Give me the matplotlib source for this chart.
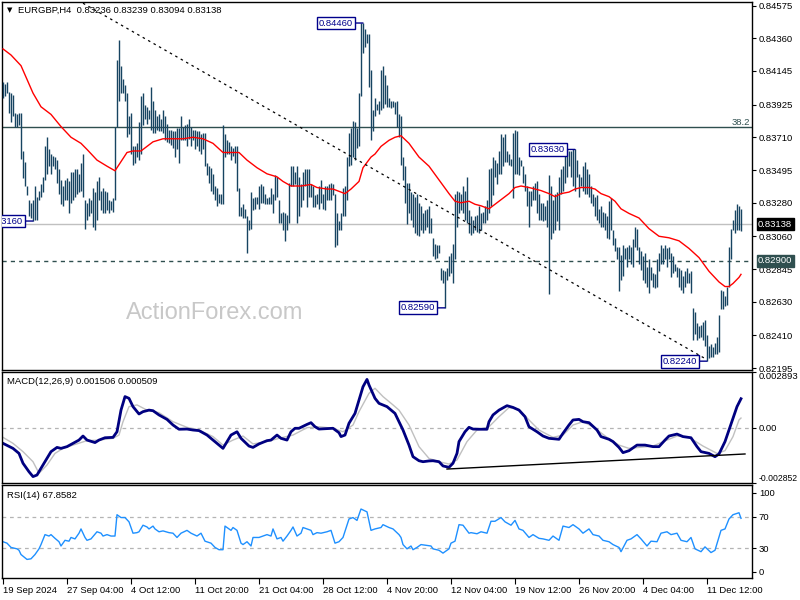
"""EURGBP H4 chart with 55-bar MA, MACD(12,26,9) and RSI(14) panes, MT4 style."""

import matplotlib
matplotlib.use("Agg")
import matplotlib.pyplot as plt
from matplotlib.transforms import blended_transform_factory

plt.rcParams["font.family"] = ["Liberation Sans", "DejaVu Sans"]
plt.rcParams["font.size"] = 6.8

# ---- price bars (H4) ----
bar_high = [
    0.8407, 0.8406, 0.8407, 0.8401, 0.8400, 0.8399, 0.8387, 0.8386, 0.8387, 0.8387,
    0.8362, 0.8355, 0.8339, 0.8330, 0.8328, 0.8330, 0.8339, 0.8332, 0.8336, 0.8340,
    0.8345, 0.8365, 0.8371, 0.8363, 0.8360, 0.8359, 0.8358, 0.8356, 0.8350, 0.8343,
    0.8339, 0.8343, 0.8344, 0.8342, 0.8348, 0.8348, 0.8350, 0.8350, 0.8347, 0.8354,
    0.8360, 0.8330, 0.8328, 0.8331, 0.8330, 0.8338, 0.8335, 0.8342, 0.8345, 0.8336,
    0.8338, 0.8336, 0.8335, 0.8330, 0.8329, 0.8331, 0.8378, 0.8422, 0.8435, 0.8418,
    0.8409, 0.8405, 0.8400, 0.8385, 0.8387, 0.8365, 0.8365, 0.8367, 0.8381, 0.8398,
    0.8400, 0.8392, 0.8391, 0.8389, 0.8404, 0.8395, 0.8389, 0.8385, 0.8386, 0.8383,
    0.8389, 0.8385, 0.8380, 0.8376, 0.8376, 0.8375, 0.8375, 0.8377, 0.8377, 0.8385,
    0.8378, 0.8379, 0.8380, 0.8383, 0.8378, 0.8376, 0.8376, 0.8375, 0.8375, 0.8373,
    0.8374, 0.8374, 0.8354, 0.8352, 0.8351, 0.8347, 0.8339, 0.8338, 0.8334, 0.8334,
    0.8379, 0.8373, 0.8369, 0.8368, 0.8365, 0.8364, 0.8365, 0.8365, 0.8338, 0.8325,
    0.8327, 0.8324, 0.8319, 0.8317, 0.8335, 0.8331, 0.8332, 0.8332, 0.8339, 0.8340,
    0.8339, 0.8334, 0.8331, 0.8332, 0.8338, 0.8334, 0.8346, 0.8345, 0.8330, 0.8321,
    0.8322, 0.8321, 0.8320, 0.8341, 0.8352, 0.8352, 0.8348, 0.8352, 0.8345, 0.8340,
    0.8348, 0.8350, 0.8350, 0.8350, 0.8340, 0.8339, 0.8333, 0.8334, 0.8339, 0.8343,
    0.8334, 0.8339, 0.8339, 0.8340, 0.8341, 0.8340, 0.8334, 0.8321, 0.8316, 0.8321,
    0.8338, 0.8339, 0.8358, 0.8374, 0.8377, 0.8382, 0.8381, 0.8377, 0.8400, 0.8446,
    0.8446, 0.8442, 0.8439, 0.8439, 0.8415, 0.8389,
    0.8397, 0.8393, 0.8395, 0.8415, 0.8418, 0.8412, 0.8405, 0.8397, 0.8395, 0.8395,
    0.8394, 0.8395, 0.8386, 0.8385, 0.8358, 0.8352, 0.8341, 0.8341, 0.8335, 0.8334,
    0.8332, 0.8334, 0.8328, 0.8326, 0.8321, 0.8323, 0.8324, 0.8326, 0.8318, 0.8305,
    0.8301, 0.8300, 0.8300, 0.8285, 0.8284, 0.8283, 0.8285, 0.8293, 0.8295, 0.8301,
    0.8334, 0.8336, 0.8335, 0.8334, 0.8339, 0.8336, 0.8345, 0.8323, 0.8319, 0.8317,
    0.8319, 0.8320, 0.8326, 0.8321, 0.8322, 0.8326, 0.8330, 0.8350, 0.8351, 0.8358,
    0.8356, 0.8354, 0.8362, 0.8373, 0.8371, 0.8373, 0.8362, 0.8360, 0.8357, 0.8374,
    0.8376, 0.8375, 0.8358, 0.8356, 0.8352, 0.8347, 0.8339, 0.8336, 0.8336, 0.8339,
    0.8341, 0.8342, 0.8334, 0.8328, 0.8328, 0.8326, 0.8330, 0.8346, 0.8339, 0.8330,
    0.8334, 0.8335, 0.8345, 0.8350, 0.8352, 0.8360, 0.8363, 0.8362, 0.8362, 0.8363,
    0.8363, 0.8356, 0.8347, 0.8345, 0.8352, 0.8355, 0.8350, 0.8347, 0.8339, 0.8334,
    0.8332, 0.8333, 0.8324, 0.8326, 0.8322, 0.8321, 0.8319, 0.8329, 0.8331, 0.8310,
    0.8305, 0.8299, 0.8299, 0.8294, 0.8300, 0.8298, 0.8299, 0.8300, 0.8299, 0.8304,
    0.8312, 0.8311, 0.8299, 0.8296, 0.8293, 0.8295, 0.8286, 0.8291, 0.8286, 0.8282,
    0.8281, 0.8291, 0.8295, 0.8300, 0.8298, 0.8300, 0.8298, 0.8299, 0.8295, 0.8293,
    0.8288, 0.8286, 0.8285, 0.8284, 0.8280, 0.8283, 0.8285, 0.8282, 0.8283, 0.8259,
    0.8256, 0.8249, 0.8247, 0.8248, 0.8250, 0.8251, 0.8241, 0.8234, 0.8235, 0.8233,
    0.8236, 0.8240, 0.8254, 0.8271, 0.8270, 0.8267, 0.8273, 0.8299, 0.8311, 0.8317,
    0.8323, 0.8327, 0.8326, 0.83239,
]
bar_low = [
    0.8397, 0.8398, 0.8400, 0.8387, 0.8381, 0.8385, 0.8378, 0.8378, 0.8379, 0.8357,
    0.8344, 0.8339, 0.8333, 0.8319, 0.8318, 0.8316, 0.8317, 0.8317, 0.8330, 0.8332,
    0.8335, 0.8343, 0.8347, 0.8352, 0.8347, 0.8352, 0.8350, 0.8341, 0.8334, 0.8327,
    0.8326, 0.8330, 0.8330, 0.8321, 0.8328, 0.8330, 0.8332, 0.8334, 0.8335, 0.8336,
    0.8332, 0.8311, 0.8317, 0.8319, 0.8321, 0.8312, 0.8310, 0.8317, 0.8330, 0.8323,
    0.8321, 0.8321, 0.8323, 0.8321, 0.8323, 0.8322, 0.8330, 0.8378, 0.8395, 0.8400,
    0.8400, 0.8395, 0.8371, 0.8373, 0.8360, 0.8353, 0.8354, 0.8358, 0.8356, 0.8360,
    0.8379, 0.8383, 0.8380, 0.8383, 0.8376, 0.8374, 0.8374, 0.8376, 0.8375, 0.8375,
    0.8374, 0.8369, 0.8368, 0.8367, 0.8366, 0.8364, 0.8358, 0.8363, 0.8354, 0.8369,
    0.8369, 0.8369, 0.8365, 0.8370, 0.8365, 0.8369, 0.8363, 0.8365, 0.8362, 0.8360,
    0.8363, 0.8352, 0.8346, 0.8341, 0.8336, 0.8334, 0.8330, 0.8326, 0.8328, 0.8327,
    0.8327, 0.8358, 0.8360, 0.8360, 0.8356, 0.8359, 0.8354, 0.8336, 0.8319, 0.8319,
    0.8318, 0.8318, 0.8295, 0.8310, 0.8311, 0.8323, 0.8324, 0.8327, 0.8324, 0.8328,
    0.8328, 0.8327, 0.8327, 0.8327, 0.8327, 0.8321, 0.8330, 0.8332, 0.8315, 0.8315,
    0.8310, 0.8303, 0.8310, 0.8315, 0.8339, 0.8339, 0.8340, 0.8315, 0.8319, 0.8325,
    0.8330, 0.8339, 0.8325, 0.8332, 0.8332, 0.8325, 0.8325, 0.8327, 0.8324, 0.8328,
    0.8324, 0.8323, 0.8330, 0.8330, 0.8330, 0.8333, 0.8299, 0.8300, 0.8310, 0.8310,
    0.8319, 0.8319, 0.8330, 0.8352, 0.8353, 0.8358, 0.8356, 0.8364, 0.8365, 0.8398,
    0.8426, 0.8430, 0.8433, 0.8404, 0.8369, 0.8375,
    0.8385, 0.8389, 0.8386, 0.8389, 0.8390, 0.8393, 0.8391, 0.8391, 0.8390, 0.8391,
    0.8386, 0.8378, 0.8371, 0.8353, 0.8343, 0.8328, 0.8314, 0.8321, 0.8317, 0.8312,
    0.8308, 0.8307, 0.8306, 0.8310, 0.8308, 0.8310, 0.8312, 0.8308, 0.8308, 0.8293,
    0.8291, 0.8292, 0.8295, 0.8277, 0.8275, 0.8259, 0.8277, 0.8280, 0.8282, 0.8275,
    0.8291, 0.8312, 0.8321, 0.8323, 0.8321, 0.8317, 0.8315, 0.8308, 0.8307, 0.8308,
    0.8310, 0.8309, 0.8308, 0.8310, 0.8315, 0.8315, 0.8317, 0.8321, 0.8326, 0.8333,
    0.8345, 0.8340, 0.8347, 0.8347, 0.8352, 0.8355, 0.8355, 0.8353, 0.8352, 0.8331,
    0.8347, 0.8347, 0.8346, 0.8352, 0.8341, 0.8336, 0.8326, 0.8312, 0.8326, 0.8330,
    0.8330, 0.8321, 0.8317, 0.8317, 0.8316, 0.8317, 0.8312, 0.8268, 0.8304, 0.8308,
    0.8310, 0.8316, 0.8310, 0.8334, 0.8336, 0.8341, 0.8345, 0.8352, 0.8345, 0.8339,
    0.8336, 0.8345, 0.8332, 0.8339, 0.8336, 0.8334, 0.8334, 0.8332, 0.8328, 0.8326,
    0.8319, 0.8317, 0.8315, 0.8312, 0.8312, 0.8310, 0.8305, 0.8304, 0.8310, 0.8300,
    0.8296, 0.8291, 0.8270, 0.8277, 0.8280, 0.8291, 0.8286, 0.8291, 0.8288, 0.8286,
    0.8299, 0.8297, 0.8288, 0.8284, 0.8277, 0.8275, 0.8273, 0.8269, 0.8277, 0.8273,
    0.8272, 0.8273, 0.8283, 0.8288, 0.8288, 0.8291, 0.8286, 0.8291, 0.8279, 0.8282,
    0.8283, 0.8279, 0.8273, 0.8271, 0.8269, 0.8273, 0.8275, 0.8275, 0.8269, 0.8238,
    0.8242, 0.8238, 0.8239, 0.8240, 0.8238, 0.8234, 0.8224, 0.8226, 0.8227, 0.8227,
    0.8229, 0.8229, 0.8230, 0.8258, 0.8258, 0.8260, 0.8261, 0.8273, 0.8291, 0.8310,
    0.8308, 0.8310, 0.8310, 0.83094,
]

# moving average (red), sampled along the bars
ma_idx = [0, 4, 9, 12, 15, 19, 24, 29, 34, 39, 42, 47, 52, 56, 59, 62, 65, 69, 72, 75,
          80, 85, 90, 95, 100, 105, 110, 115, 118, 122, 127, 132, 137, 140, 144, 149, 154, 157, 162, 165,
          169, 171, 174, 178, 180, 184, 186, 189, 193, 196, 199, 203, 208, 213, 218, 223, 226, 229, 233, 236,
          239, 243, 246, 249, 253, 256, 259, 263, 266, 269, 273, 276, 279, 283, 286, 289, 293, 296, 299, 303,
          306, 309, 313, 318, 323, 328, 333, 338, 343, 348, 353, 358, 361, 363, 365, 368, 369]
ma_val = [0.8429, 0.8425, 0.8418, 0.8409, 0.8400, 0.8391, 0.8386, 0.8378, 0.8371, 0.8367,
          0.8363, 0.8356, 0.8352, 0.8349, 0.8355, 0.8361, 0.8362, 0.8362, 0.8365, 0.8368,
          0.8370, 0.8370, 0.8370, 0.8371, 0.8370, 0.8367, 0.8361, 0.8361, 0.8361, 0.8356,
          0.8351, 0.8347, 0.8345, 0.8342, 0.8339, 0.8339, 0.8340, 0.8338, 0.8337, 0.8337,
          0.8335, 0.8334, 0.8337, 0.8342, 0.8351, 0.8358, 0.8360, 0.8365, 0.8369, 0.8371,
          0.8372, 0.8367, 0.8358, 0.8352, 0.8343, 0.8334, 0.8329, 0.8328, 0.8329, 0.8327,
          0.8326, 0.8324, 0.8327, 0.8330, 0.8334, 0.8338, 0.8339, 0.8338, 0.8337, 0.8336,
          0.8334, 0.8332, 0.8334, 0.8335, 0.8337, 0.8338, 0.8338, 0.8337, 0.8334, 0.8332,
          0.8329, 0.8324, 0.8321, 0.8318, 0.8311, 0.8306, 0.8305, 0.8303, 0.8298, 0.8292,
          0.8283, 0.8276, 0.8273, 0.8273, 0.8275, 0.8279, 0.8281]

# MACD main line and signal line
macd_idx = [0, 5, 8, 10, 13, 15, 17, 19, 22, 24, 27, 29, 32, 35, 38, 40, 42, 46, 48, 51,
            55, 57, 59, 61, 63, 65, 68, 70, 73, 75, 78, 82, 85, 88, 92, 95, 98, 102, 105, 108,
            110, 112, 114, 117, 119, 123, 125, 128, 132, 134, 137, 139, 142, 144, 146, 148, 152, 154, 156, 158,
            162, 165, 168, 169, 171, 173, 176, 178, 180, 182, 183, 186, 188, 192, 196, 198, 200, 203, 205, 208,
            210, 213, 215, 218, 220, 223, 225, 227, 228, 231, 233, 235, 238, 242, 243, 245, 248, 252, 255, 258,
            261, 263, 267, 270, 273, 278, 280, 283, 285, 288, 290, 293, 297, 299, 303, 305, 308, 310, 313, 317,
            321, 325, 328, 331, 333, 337, 340, 344, 347, 349, 353, 356, 358, 361, 363, 365, 367, 369]
macd_val = [-0.00080, -0.00106, -0.00132, -0.00183, -0.00227, -0.00252, -0.00244, -0.00209, -0.00158, -0.00123,
            -0.00101, -0.00106, -0.00097, -0.00080, -0.00063, -0.00042, -0.00063, -0.00076, -0.00063, -0.00051,
            -0.00049, -0.00020, 0.00092, 0.00162, 0.00153, 0.00110, 0.00072, 0.00084, 0.00092, 0.00089,
            0.00067, 0.00044, 0.00015, -0.00007, -0.00006, -0.00011, -0.00014, -0.00037, -0.00063, -0.00089,
            -0.00106, -0.00071, -0.00037, -0.00020, -0.00054, -0.00094, -0.00101, -0.00083, -0.00066, -0.00063,
            -0.00037, -0.00054, -0.00063, -0.00020, -0.00002, -0.00002, 0.00018, 0.00027, 0.00006, -0.00006,
            -0.00004, -0.00002, -0.00025, -0.00045, -0.00037, 0.00024, 0.00075, 0.00144, 0.00213, 0.00251,
            0.00222, 0.00153, 0.00127, 0.00110, 0.00075, 0.00032, -0.00011, -0.00089, -0.00149, -0.00170,
            -0.00175, -0.00171, -0.00170, -0.00175, -0.00197, -0.00204, -0.00183, -0.00132, -0.00071, -0.00020,
            0.00003, -0.00006, -0.00007, -0.00007, 0.00032, 0.00067, 0.00092, 0.00115, 0.00106, 0.00092,
            0.00058, 0.00006, -0.00020, -0.00042, -0.00054, -0.00059, -0.00028, 0.00015, 0.00041, 0.00044,
            0.00032, 0.00027, -0.00011, -0.00045, -0.00059, -0.00071, -0.00101, -0.00128, -0.00118, -0.00089,
            -0.00089, -0.00097, -0.00097, -0.00063, -0.00042, -0.00032, -0.00045, -0.00051, -0.00097, -0.00123,
            -0.00132, -0.00149, -0.00135, -0.00071, -0.00011, 0.00049, 0.00110, 0.00151]
signal_idx = [0, 5, 10, 15, 18, 22, 26, 30, 35, 42, 48, 55, 58, 60, 63, 67, 72, 78, 85, 92,
              98, 105, 110, 115, 120, 125, 132, 138, 145, 152, 158, 165, 170, 175, 178, 183, 186, 190, 195, 198,
              203, 208, 213, 218, 223, 227, 232, 237, 243, 248, 253, 258, 263, 268, 275, 280, 285, 290, 295, 302,
              308, 313, 318, 325, 332, 337, 343, 350, 357, 361, 365, 368, 369]
signal_val = [-0.00049, -0.00080, -0.00123, -0.00175, -0.00235, -0.00192, -0.00132, -0.00106, -0.00089, -0.00066,
              -0.00063, -0.00054, -0.00037, 0.00032, 0.00110, 0.00119, 0.00092, 0.00079, 0.00032, 0.00003,
              -0.00011, -0.00045, -0.00089, -0.00063, -0.00042, -0.00083, -0.00071, -0.00054, -0.00037, 0.00001,
              0.00006, -0.00002, -0.00020, 0.00015, 0.00084, 0.00179, 0.00205, 0.00162, 0.00119, 0.00092,
              0.00015, -0.00097, -0.00158, -0.00175, -0.00187, -0.00166, -0.00071, -0.00011, 0.00006, 0.00058,
              0.00105, 0.00096, 0.00041, -0.00011, -0.00049, -0.00037, 0.00015, 0.00032, 0.00006, -0.00049,
              -0.00089, -0.00106, -0.00101, -0.00094, -0.00063, -0.00042, -0.00049, -0.00094, -0.00132, -0.00118,
              -0.00045, 0.00041, 0.00051]

# RSI(14)
rsi_idx = [0, 2, 4, 7, 8, 9, 12, 14, 16, 18, 19, 21, 23, 24, 26, 28, 29, 31, 33, 34,
           36, 38, 39, 41, 42, 44, 47, 49, 50, 52, 54, 56, 57, 59, 61, 63, 64, 65, 67, 68,
           70, 72, 73, 75, 76, 78, 80, 83, 85, 87, 89, 92, 94, 97, 99, 101, 104, 106, 108, 110,
           111, 114, 115, 117, 119, 120, 122, 124, 125, 128, 130, 132, 134, 135, 137, 139, 140, 142, 144, 145,
           147, 149, 150, 152, 154, 155, 157, 159, 162, 164, 166, 168, 170, 173, 175, 177, 179, 182, 184, 186,
           189, 190, 193, 195, 198, 199, 200, 202, 204, 205, 207, 209, 211, 214, 215, 218, 220, 223, 224, 226,
           228, 230, 233, 234, 237, 239, 242, 244, 246, 249, 251, 254, 256, 258, 260, 263, 265, 268, 270, 273,
           275, 278, 280, 283, 285, 288, 290, 293, 295, 298, 300, 303, 305, 308, 309, 312, 314, 317, 319, 322,
           324, 327, 329, 332, 334, 337, 339, 342, 344, 346, 349, 351, 354, 356, 359, 361, 363, 365, 368, 369]
rsi_val = [38.3, 36.5, 31.1, 29.3, 27.5, 22.1, 15.9, 16.7, 22.1, 29.3,
           34.7, 47.3, 45.5, 47.3, 42.6, 38.3, 32.9, 40.1, 39.0, 43.7,
           41.9, 49.1, 54.5, 43.7, 40.1, 41.9, 50.9, 49.1, 45.5, 47.3,
           45.5, 45.5, 72.5, 68.9, 68.9, 63.5, 56.3, 49.1, 49.8, 50.9,
           59.2, 57.0, 54.5, 58.1, 54.5, 50.9, 52.0, 49.8, 49.1, 43.7,
           49.1, 52.7, 49.1, 45.5, 49.1, 39.0, 36.5, 31.1, 28.2, 28.2,
           58.1, 52.7, 56.3, 52.7, 36.5, 34.7, 38.3, 32.9, 43.7, 43.7,
           45.5, 47.3, 45.5, 54.5, 41.9, 43.7, 39.0, 45.5, 52.7, 57.0,
           45.5, 49.1, 56.3, 54.5, 52.7, 47.3, 49.8, 49.1, 50.9, 52.7,
           36.5, 38.3, 43.7, 67.1, 68.9, 65.3, 79.7, 76.1, 52.7, 54.5,
           56.3, 59.9, 56.3, 54.5, 47.3, 43.7, 34.7, 29.3, 32.9, 28.2,
           31.1, 34.7, 34.0, 32.9, 29.3, 27.5, 23.9, 29.3, 36.5, 39.0,
           59.9, 59.2, 49.1, 49.8, 48.4, 50.9, 49.1, 64.2, 64.2, 68.9,
           63.5, 59.2, 65.3, 54.5, 52.7, 43.7, 47.3, 42.6, 41.9, 40.1,
           45.5, 40.1, 58.1, 56.3, 59.9, 54.5, 49.1, 54.5, 47.3, 45.5,
           40.1, 38.3, 34.7, 31.1, 25.7, 40.1, 41.9, 47.3, 41.9, 32.9,
           39.0, 38.3, 49.1, 50.9, 47.3, 49.1, 40.1, 38.3, 43.7, 29.3,
           25.7, 31.8, 24.6, 27.5, 52.7, 54.5, 67.1, 72.5, 75.0, 67.9]

# chart objects: price labels, trend lines, levels
label_idx = [15, 180, 221, 286, 352]
label_price = [0.8316, 0.8446, 0.8259, 0.8363, 0.8224]
trend_idx = [40, 352]
trend_price = [0.8459, 0.8225]
div_idx = [222, 371]
div_macd = [-0.00213, -0.00135]
fib_level = 0.83775
support_level = 0.8290
last_close = 0.83138

price_ticks = [0.84575, 0.84360, 0.84145, 0.83925, 0.83710, 0.83495,
               0.83280, 0.83060, 0.82845, 0.82630, 0.82410, 0.82195]
date_idx = [0, 32, 64, 96, 128, 160, 192, 224, 256, 288, 320, 352]
date_labels = ["19 Sep 2024", "27 Sep 04:00", "4 Oct 12:00", "11 Oct 20:00",
               "21 Oct 04:00", "28 Oct 12:00", "4 Nov 20:00", "12 Nov 04:00",
               "19 Nov 12:00", "26 Nov 20:00", "4 Dec 04:00", "11 Dec 12:00"]

BAR = "#174461"
NAVY = "#00008b"
SLATE = "#2f4f4f"

fig = plt.figure(figsize=(8, 6), dpi=100, facecolor="white")


def pane(top, bottom):
    a = fig.add_axes([2 / 800, 1 - bottom / 600, 750 / 800, (bottom - top) / 600])
    a.set_xlim(-0.5, 374.5)
    for s in a.spines.values():
        s.set_color("black")
        s.set_linewidth(1)
    a.yaxis.tick_right()
    a.tick_params(axis="y", length=3, width=0.8, pad=2, labelsize=6.8)
    a.tick_params(axis="x", length=0, labelbottom=False)
    return a


ax = pane(2, 370)
axm = pane(372, 483)
axr = pane(485, 578)

# ---- main price pane ----
x = list(range(len(bar_high)))
ax.vlines(x, bar_low, bar_high, color=BAR, lw=1.0, zorder=3)
ax.plot(ma_idx, ma_val, color="red", lw=1.0, zorder=4)
ax.plot(trend_idx, trend_price, color="black", lw=0.9, ls=(0, (2, 3)), zorder=4)
ax.axhline(fib_level, color=SLATE, lw=1.0, zorder=2)
ax.axhline(last_close, color="#c0c0c0", lw=1.0, zorder=1)
ax.axhline(support_level, color=SLATE, lw=1.0, ls=(0, (3, 3)), zorder=2)
ax.set_ylim(0.82182, 0.84598)
ax.set_yticks(price_ticks)
ax.set_yticklabels([f"{v:.5f}" for v in price_ticks])

yblend = blended_transform_factory(ax.transAxes, ax.transData)
ax.text(0.997, fib_level + 0.00003, "38.2", transform=yblend, ha="right", va="bottom",
        color=SLATE, fontsize=6.8)
ax.text(0.283, 0.155, "ActionForex.com", transform=ax.transAxes, ha="center", va="center",
        color="#c8c8c8", fontsize=17, zorder=0)

# price labels; the first one is cut by the left edge, as on the original chart
for i, p in zip(label_idx, label_price):
    ax.annotate(f"{p:.5f}", xy=(i, p), xytext=(-10, 0), textcoords="offset pixels",
                ha="right", va="center", color=NAVY, fontsize=6.8,
                bbox=dict(boxstyle="square,pad=0.2", fc="white", ec=NAVY, lw=1),
                arrowprops=dict(arrowstyle="-", color=NAVY, lw=1, shrinkA=0, shrinkB=0),
                annotation_clip=False, clip_on=True, zorder=6)

for lvl, fc in ((last_close, "black"), (support_level, SLATE)):
    ax.annotate(f"{lvl:.5f}", xy=(1, lvl), xycoords=("axes fraction", "data"),
                xytext=(6, 0), textcoords="offset pixels", ha="left", va="center",
                color="white", fontsize=6.8,
                bbox=dict(boxstyle="square,pad=0.15", fc=fc, ec=fc), annotation_clip=False)

# ---- MACD pane ----
axm.axhline(0, color="#b4b4b4", lw=0.9, ls=(0, (3, 3)))
axm.plot(signal_idx, signal_val, color="#c0c0c0", lw=1.0)
axm.plot(macd_idx, macd_val, color="#000080", lw=2.0)
axm.plot(div_idx, div_macd, color="black", lw=1.0)
axm.set_ylim(-0.002852, 0.002893)
axm.set_yticks([0.002893, 0.0, -0.002852])
axm.set_yticklabels(["0.002893", "0.00", "-0.002852"])
axm.tick_params(axis="y", pad=1.5)
mlabels = axm.get_yticklabels()
mlabels[0].set_verticalalignment("top")
mlabels[2].set_verticalalignment("bottom")
mlabels[2].set_fontsize(6.2)

# ---- RSI pane ----
axr.axhline(70, color="#b4b4b4", lw=0.9, ls=(0, (3, 3)))
axr.axhline(30, color="#b4b4b4", lw=0.9, ls=(0, (3, 3)))
axr.plot(rsi_idx, rsi_val, color="#1e90ff", lw=1.0)
axr.set_ylim(-7.6, 110.1)
axr.set_yticks([100, 70, 30, 0])
axr.set_yticklabels(["100", "70", "30", "0"])
axr.set_xticks(date_idx)
axr.set_xticklabels(date_labels, ha="left")
axr.tick_params(axis="x", length=4, width=0.8, pad=2, labelbottom=True, labelsize=6.8)

# ---- pane headers ----
fig.text(7 / 800, 1 - 10 / 600, "\u25bc", fontsize=5, va="center", family="DejaVu Sans")
fig.text(18 / 800, 1 - 10 / 600,
         "EURGBP,H4  0.83236 0.83239 0.83094 0.83138", fontsize=6.8, va="center")
fig.text(7 / 800, 1 - 381 / 600, "MACD(12,26,9) 0.001506 0.000509", fontsize=6.8, va="center")
fig.text(7 / 800, 1 - 495 / 600, "RSI(14) 67.8582", fontsize=6.8, va="center")

fig.savefig("out.png", dpi=100, facecolor="white")
